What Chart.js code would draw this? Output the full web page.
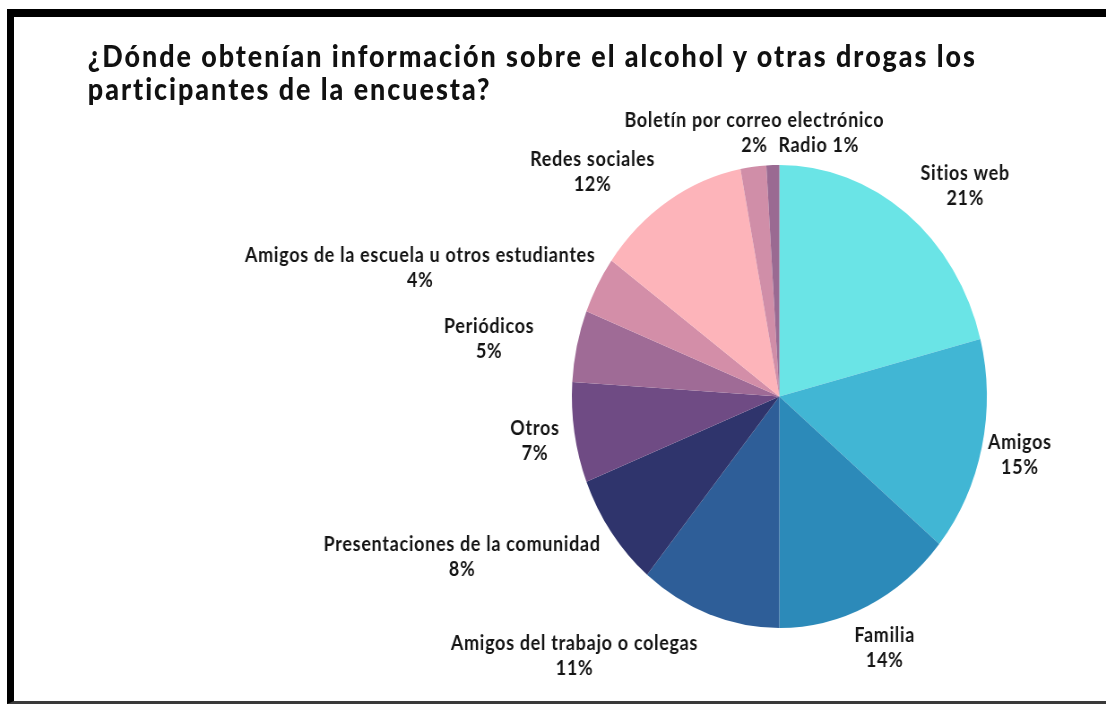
<!DOCTYPE html>
<html lang="es">
<head>
<meta charset="utf-8">
<title>Fuentes de información sobre alcohol y drogas</title>
<script src="https://cdn.jsdelivr.net/npm/chart.js@4/dist/chart.umd.min.js"></script>
<style>
  html, body { margin: 0; padding: 0; background: #fff; overflow: hidden; }
  body { width: 1106px; height: 704px; position: relative; }
  /* the source image is squeezed horizontally, so draw wide and squeeze */
  #lienzo {
    position: absolute; left: 0; top: 0;
    width: 1234px; height: 704px;
    transform: scaleX(0.8963); transform-origin: 0 0;
  }
  #titulo {
    position: absolute; left: 98px; top: 39px;
    font-family: Lato, sans-serif; font-weight: 900;
    font-size: 30px; line-height: 33px; color: #111;
    letter-spacing: 2.2px;
    white-space: nowrap;
  }
  #marco {
    position: absolute; left: 7px; top: 9px;
    width: 1120px; height: 684px;
    border-left: 7px solid #000; border-top: 8px solid #000;
    border-bottom: 3px solid #3a3a3a;
    pointer-events: none;
  }
</style>
</head>
<body>
<div id="lienzo">
  <canvas id="graficoFuentes" width="1234" height="704"></canvas>
  <div id="titulo">¿Dónde obtenían información sobre el alcohol y otras drogas los<br>participantes de la encuesta?</div>
</div>
<div id="marco"></div>
<script>
const categorias = [
    'Sitios web',
    'Amigos',
    'Familia',
    'Amigos del trabajo o colegas',
    'Presentaciones de la comunidad',
    'Otros',
    'Periódicos',
    'Amigos de la escuela u otros estudiantes',
    'Redes sociales',
    'Boletín por correo electrónico',
    'Radio'
];
const porcentajes = [21, 15, 14, 11, 8, 7, 5, 4, 12, 2, 1];

// labels outside the pie, name over percentage
const etiquetasFuera = {
    id: 'etiquetasFuera',
    afterDatasetsDraw(chart, args, opts) {
        const ctx = chart.ctx;
        const meta = chart.getDatasetMeta(0);
        ctx.save();
        ctx.font = opts.font;
        ctx.letterSpacing = opts.espaciado;
        ctx.fillStyle = opts.color;
        ctx.textAlign = 'center';
        ctx.textBaseline = 'middle';
        meta.data.forEach((arc, i) => {
            const p = arc.getProps(['x', 'y', 'startAngle', 'endAngle', 'outerRadius'], true);
            const a = (p.startAngle + p.endAngle) / 2;
            const nombre = chart.data.labels[i];
            const valor = chart.data.datasets[0].data[i] + '%';
            const lineas = opts.enLinea.includes(i) ? [nombre + ' ' + valor] : [nombre, valor];
            const hw = Math.max(...lineas.map(l => ctx.measureText(l).width)) / 2;
            const hh = lineas.length * opts.lineHeight / 2;
            const r = p.outerRadius + opts.separacion;
            const ajuste = opts.ajustes[i] || [0, 0];
            const cx = p.x + Math.cos(a) * (r + hw) + ajuste[0];
            const cy = p.y + Math.sin(a) * (r + hh) + ajuste[1];
            lineas.forEach((l, k) => {
                ctx.fillText(l, cx, cy - hh + opts.lineHeight * (k + 0.5));
            });
        });
        ctx.restore();
    }
};

document.addEventListener('DOMContentLoaded', function () {
    const ctx = document.getElementById('graficoFuentes');
    if (!ctx) return;

    new Chart(ctx, {
        type: 'pie',
        data: {
            labels: categorias,
            datasets: [{
                data: porcentajes,
                backgroundColor: [
                    '#6ae4e6',  // Sitios web
                    '#41b6d4',  // Amigos
                    '#2c8ab9',  // Familia
                    '#2e5e98',  // Trabajo
                    '#2f346c',  // Presentaciones
                    '#6f4b84',  // Otros
                    '#9f6b96',  // Periódicos
                    '#d38ea8',  // Escuela
                    '#fdb4ba',  // Redes sociales
                    '#d08ea8',  // Boletín
                    '#9a6a92'   // Radio
                ],
                borderWidth: 0
            }]
        },
        options: {
            responsive: false,
            animation: false,
            events: [],
            layout: {
                padding: { top: 165, bottom: 76, left: 638, right: 133 }
            },
            plugins: {
                legend: { display: false },
                title: { display: false },
                tooltip: { enabled: false },
                etiquetasFuera: {
                    font: 'bold 20px Lato',
                    espaciado: '0.8px',
                    color: '#141414',
                    lineHeight: 25,
                    separacion: 13,
                    enLinea: [10],
                    ajustes: [
                        [27, 2], [-5, 0], [-1, 8], [-99, 6], [-31, 2], [-4, 2],
                        [-36, 1], [-15, 1], [-40, 3], [21, 4], [53, 6]
                    ]
                }
            }
        },
        plugins: [etiquetasFuera]
    });
});
</script>
</body>
</html>
